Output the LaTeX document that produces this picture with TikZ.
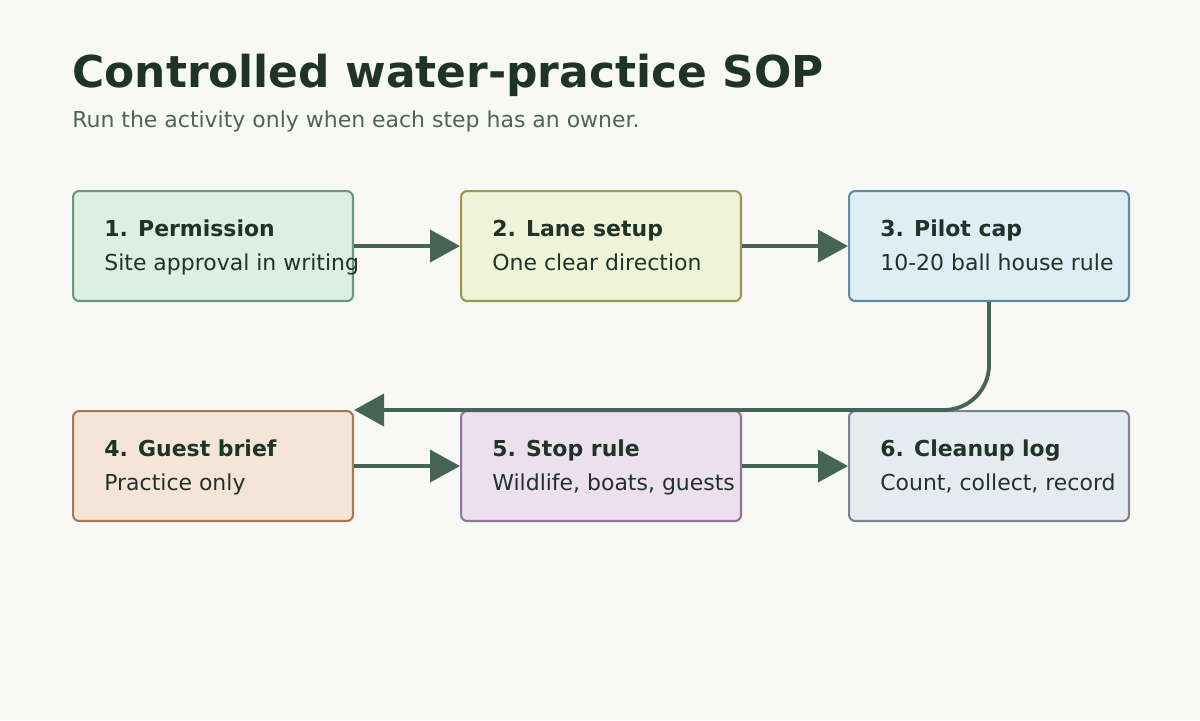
\documentclass[tikz,border=0pt]{standalone}
\usepackage{fontspec}
\setmainfont{DejaVu Sans}
\usetikzlibrary{arrows.meta}
\definecolor{bgc}{HTML}{F8F9F7}
\definecolor{titlec}{HTML}{1F3329}
\definecolor{subc}{HTML}{51625A}
\definecolor{arrc}{HTML}{466456}
\definecolor{fillA}{HTML}{DCEFE3}\definecolor{drawA}{HTML}{6E9580}
\definecolor{fillB}{HTML}{EFF3D7}\definecolor{drawB}{HTML}{9A9A4A}
\definecolor{fillC}{HTML}{DDEEF4}\definecolor{drawC}{HTML}{5F8CA0}
\definecolor{fillD}{HTML}{F5E5D9}\definecolor{drawD}{HTML}{A87850}
\definecolor{fillE}{HTML}{ECDFEE}\definecolor{drawE}{HTML}{8E7497}
\definecolor{fillF}{HTML}{E6EBEF}\definecolor{drawF}{HTML}{7A8490}
\tikzset{
  stepbox/.style={draw, line width=1.2pt, rounded corners=3.5pt, minimum width=5.6cm, minimum height=2.2cm, anchor=north west},
  head/.style={anchor=base west, font=\fontsize{12.5}{15}\selectfont\bfseries, text=titlec, inner sep=0pt},
  body/.style={anchor=base west, font=\fontsize{12.5}{15}\selectfont, text=titlec, inner sep=0pt},
  flow/.style={draw=arrc, line width=2.2pt, -{Triangle[length=0.6cm, width=0.64cm]}}
}
\begin{document}
\begin{tikzpicture}[x=0.02cm, y=-0.02cm]
\fill[bgc] (0,0) rectangle (1200,720);
\useasboundingbox (0,0) rectangle (1200,720);

% title
\node[anchor=base west, inner sep=0pt, font=\fontsize{25}{30}\selectfont\bfseries, text=titlec] (title) at (72,87) {Controlled water-practice SOP};
\node[anchor=base west, inner sep=0pt, font=\fontsize{12.5}{15}\selectfont, text=subc] (subtitle) at (72,127) {Run the activity only when each step has an owner.};

% steps
\foreach \name/\x/\y/\c/\h/\b in {
  perm/72/190/A/1. Permission/Site approval in writing,
  lane/460/190/B/2. Lane setup/One clear direction,
  pilot/848/190/C/3. Pilot cap/10-20 ball house rule,
  brief/72/410/D/4. Guest brief/Practice only,
  stop/460/410/E/5. Stop rule/{Wildlife, boats, guests},
  clean/848/410/F/6. Cleanup log/{Count, collect, record}} {
  \node[stepbox, fill=fill\c, draw=draw\c] (\name) at (\x,\y) {};
  \node[head] at (\x+32,\y+46) {\h};
  \node[body] at (\x+32,\y+80) {\b};
}

% connectors
\draw[flow] (perm) -- (lane);
\draw[flow] (lane) -- (pilot);
\draw[flow, rounded corners=0.9cm] (pilot.south) |- (brief.north east);
\draw[flow] (brief) -- (stop);
\draw[flow] (stop) -- (clean);
\end{tikzpicture}
\end{document}
